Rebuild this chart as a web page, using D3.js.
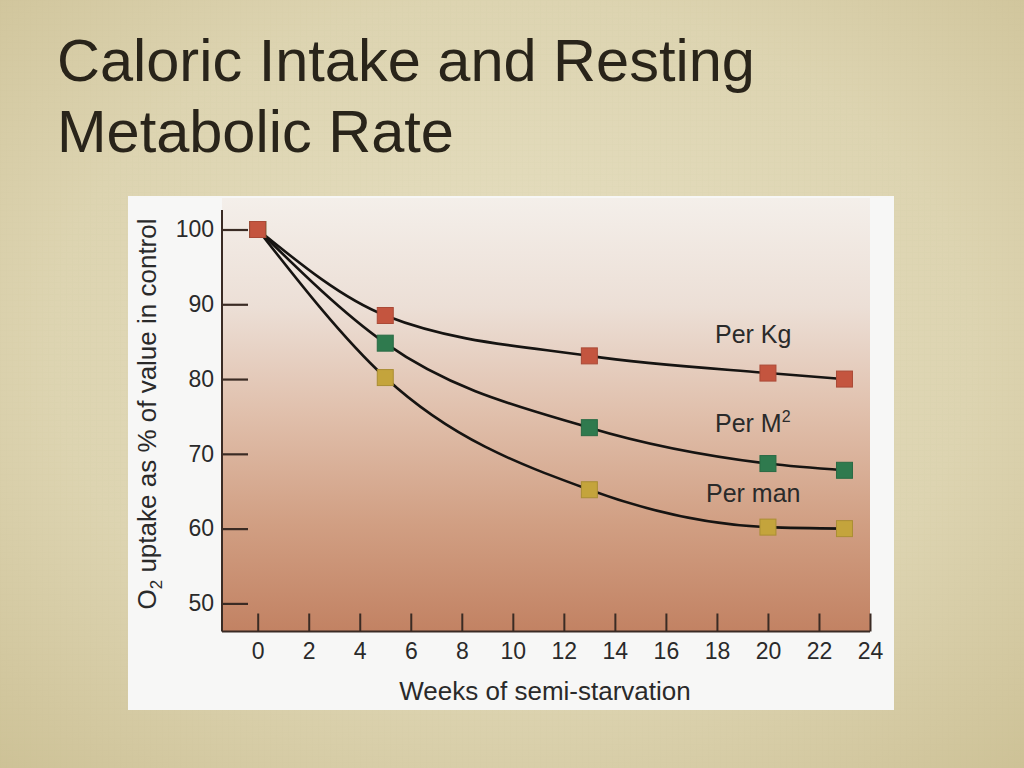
<!DOCTYPE html>
<html>
<head>
<meta charset="utf-8">
<script src="https://cdn.jsdelivr.net/npm/d3@7"></script>
<style>
  html, body { margin: 0; padding: 0; background: #d8cfa6; }
  svg { display: block; }
  text { font-family: "Liberation Sans", Arial, Helvetica, sans-serif; }
</style>
</head>
<body>
<svg id="chart" width="1024" height="768"></svg>
<script>
// ---- data ----
const weeks = [0, 5, 13, 20, 23];
const perKg = [100, 88.5, 83.1, 80.8, 80.0];
const perM2 = [100, 84.8, 73.5, 68.7, 67.8];
const perMan = [100, 80.2, 65.2, 60.2, 60.0];
const xTicks = [0, 2, 4, 6, 8, 10, 12, 14, 16, 18, 20, 22, 24];
const yTicks = [50, 60, 70, 80, 90, 100];
const titleLines = ["Caloric Intake and Resting", "Metabolic Rate"];
const seriesColors = ["#c4a43c", "#2f7a4e", "#c4553f"];

const svg = d3.select("#chart");
const defs = svg.append("defs");

// slide background
const rg = defs.append("radialGradient").attr("id", "slideBg")
  .attr("cx", "50%").attr("cy", "45%").attr("r", "75%");
rg.append("stop").attr("offset", "0%").attr("stop-color", "#e7e0c3");
rg.append("stop").attr("offset", "60%").attr("stop-color", "#ddd4b1");
rg.append("stop").attr("offset", "100%").attr("stop-color", "#cdc196");
svg.append("rect").attr("width", 1024).attr("height", 768).attr("fill", "url(#slideBg)");

// faint texture
const pat = defs.append("pattern").attr("id", "tex").attr("width", 6).attr("height", 6)
  .attr("patternUnits", "userSpaceOnUse");
pat.append("path").attr("d", "M0 0.5H6M0.5 0V6").attr("stroke", "#b8ab7c").attr("stroke-width", 0.6).attr("opacity", 0.07);
svg.append("rect").attr("width", 1024).attr("height", 768).attr("fill", "url(#tex)");

// title
svg.append("g").selectAll("text").data(titleLines).join("text")
  .attr("x", 57).attr("y", (d, i) => 81 + i * 71)
  .attr("font-size", 59.5).attr("fill", "#29241a")
  .text(d => d);

// white panel
svg.append("rect").attr("x", 128).attr("y", 196).attr("width", 766).attr("height", 514).attr("fill", "#f7f7f6");

// scales
const x = d3.scaleLinear().domain([0, 24]).range([257.7, 870]);
const y = d3.scaleLinear().domain([50, 100]).range([603.4, 229.5]);
const axisLeftX = 222, plotRight = 870, plotTop = 210, plotBottom = 631.5;

// plot background gradient
const lg = defs.append("linearGradient").attr("id", "plotBg")
  .attr("x1", 0).attr("y1", 0).attr("x2", 0).attr("y2", 1);
lg.append("stop").attr("offset", "0%").attr("stop-color", "#f4efea");
lg.append("stop").attr("offset", "25%").attr("stop-color", "#ecdfd6");
lg.append("stop").attr("offset", "50%").attr("stop-color", "#e0bfab");
lg.append("stop").attr("offset", "75%").attr("stop-color", "#d19f83");
lg.append("stop").attr("offset", "100%").attr("stop-color", "#c28263");
svg.append("rect").attr("x", axisLeftX).attr("y", 198)
  .attr("width", plotRight - axisLeftX).attr("height", plotBottom - 198)
  .attr("fill", "url(#plotBg)");

const axisColor = "#3a2b24";

// y axis
const yAxis = svg.append("g").attr("transform", `translate(${axisLeftX},0)`)
  .call(d3.axisLeft(y).tickValues(yTicks).tickSizeInner(-26).tickSizeOuter(0).tickPadding(34));
yAxis.select(".domain").remove();
yAxis.selectAll(".tick line").attr("stroke", axisColor).attr("stroke-width", 2.2);
yAxis.selectAll(".tick text").attr("font-size", 23).attr("fill", "#2a2a2a")
  .attr("font-family", "Liberation Sans, Arial, sans-serif").attr("x", -8);
svg.append("line").attr("x1", axisLeftX).attr("x2", axisLeftX).attr("y1", plotTop).attr("y2", plotBottom)
  .attr("stroke", axisColor).attr("stroke-width", 2);

// x axis
const xAxis = svg.append("g").attr("transform", `translate(0,${plotBottom})`)
  .call(d3.axisBottom(x).tickValues(xTicks).tickSizeInner(-18).tickSizeOuter(0).tickPadding(0));
xAxis.select(".domain").remove();
xAxis.selectAll(".tick line").attr("stroke", axisColor).attr("stroke-width", 2);
xAxis.selectAll(".tick text").attr("font-size", 23).attr("fill", "#2a2a2a")
  .attr("font-family", "Liberation Sans, Arial, sans-serif").attr("y", 11);
svg.append("line").attr("x1", axisLeftX).attr("x2", plotRight).attr("y1", plotBottom).attr("y2", plotBottom)
  .attr("stroke", axisColor).attr("stroke-width", 2);

// axis titles
const yt = svg.append("text").attr("transform", "translate(156,414) rotate(-90)")
  .attr("text-anchor", "middle").attr("font-size", 26).attr("fill", "#2a2a2a");
yt.append("tspan").text("O");
yt.append("tspan").attr("font-size", 17).attr("dy", 6).text("2");
yt.append("tspan").attr("dy", -6).text(" uptake as % of value in control");

svg.append("text").attr("x", 545).attr("y", 700).attr("text-anchor", "middle")
  .attr("font-size", 26).attr("fill", "#2a2a2a").text("Weeks of semi-starvation");

// curves
const series = [perMan, perM2, perKg];
const line = d3.line().x(d => x(d[0])).y(d => y(d[1])).curve(d3.curveMonotoneX);
svg.append("g").selectAll("path").data(series).join("path")
  .attr("d", s => line(weeks.map((w, i) => [w, s[i]])))
  .attr("fill", "none").attr("stroke", "#161412").attr("stroke-width", 2.6);

// markers
const ms = 16;
series.forEach((s, k) => {
  svg.append("g").selectAll("rect").data(weeks.map((w, i) => [w, s[i]])).join("rect")
    .attr("x", d => x(d[0]) - ms / 2).attr("y", d => y(d[1]) - ms / 2)
    .attr("width", ms).attr("height", ms)
    .attr("fill", seriesColors[k])
    .attr("stroke", d3.color(seriesColors[k]).darker(0.4)).attr("stroke-width", 1);
});

// curve labels
const lab = svg.append("g").attr("font-size", 25).attr("fill", "#2a2a2a");
lab.append("text").attr("x", 715).attr("y", 343).text("Per Kg");
const m2 = lab.append("text").attr("x", 715).attr("y", 432);
m2.append("tspan").text("Per M");
m2.append("tspan").attr("font-size", 16).attr("dy", -10).text("2");
lab.append("text").attr("x", 706).attr("y", 502).text("Per man");
</script>
</body>
</html>
